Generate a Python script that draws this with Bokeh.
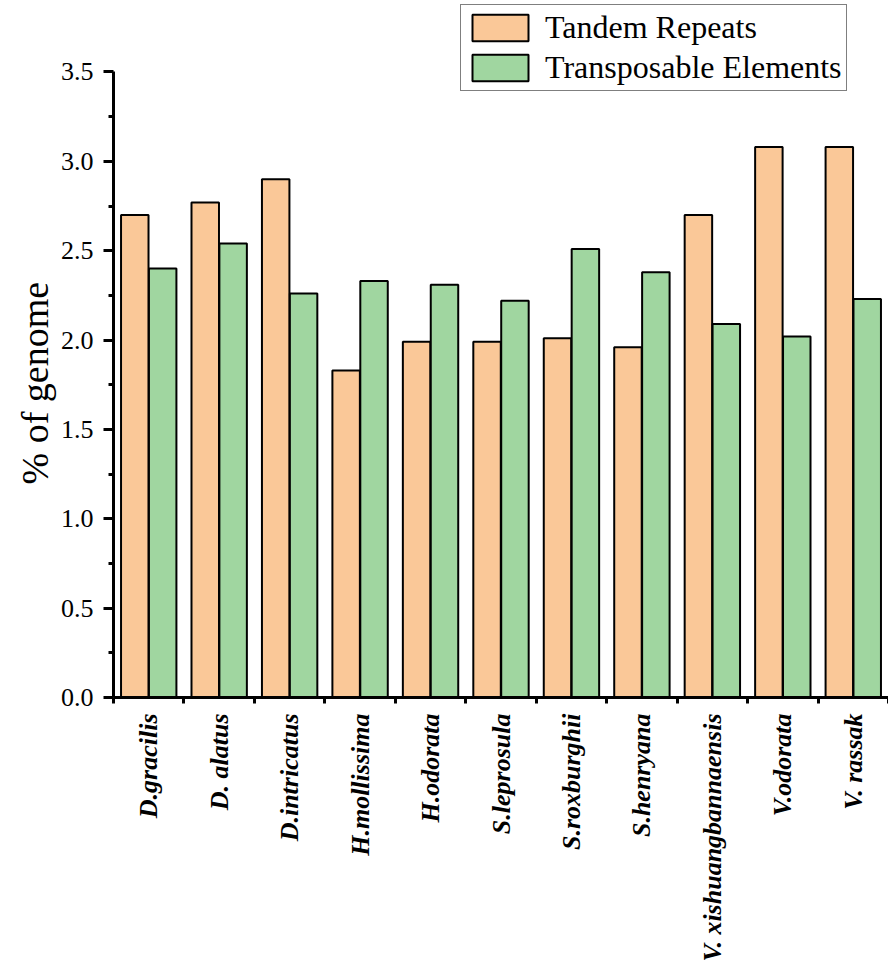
import math
from bokeh.plotting import figure
from bokeh.models import ColumnDataSource, FixedTicker, Range1d, Legend, LegendItem, Title
from bokeh.embed import file_html
from bokeh.resources import INLINE

categories = ["D.gracilis", "D. alatus", "D.intricatus", "H.mollissima", "H.odorata",
              "S.leprosula", "S.roxburghii", "S.henryana", "V. xishuangbannaensis",
              "V.odorata", "V. rassak"]
tandem_repeats = [2.70, 2.77, 2.90, 1.83, 1.99, 1.99, 2.01, 1.96, 2.70, 3.08, 3.08]
transposable_elements = [2.40, 2.54, 2.26, 2.33, 2.31, 2.22, 2.51, 2.38, 2.09, 2.02, 2.23]
y_ticks = [0.0, 0.5, 1.0, 1.5, 2.0, 2.5, 3.0, 3.5]
y_minor = [0.25, 0.75, 1.25, 1.75, 2.25, 2.75, 3.25]
y_label = "% of genome"

FONT = "Liberation Serif"
ORANGE = "#FAC898"
GREEN = "#A0D6A0"

idx = list(range(len(categories)))
src = ColumnDataSource(dict(
    xo=[i + 0.5 - 0.198 for i in idx],
    xg=[i + 0.5 + 0.198 for i in idx],
    tr=tandem_repeats,
    te=transposable_elements,
))

p = figure(width=888, height=964, output_backend="svg", toolbar_location=None,
           x_range=Range1d(0, len(categories)), y_range=Range1d(0, 3.90),
           min_border_left=113, min_border_right=0, min_border_top=0, min_border_bottom=264)
p.outline_line_color = None
p.xgrid.visible = False
p.ygrid.visible = False

r1 = p.vbar(x="xo", top="tr", width=0.39, bottom=0, source=src,
            fill_color=ORANGE, line_color="black", line_width=2)
r2 = p.vbar(x="xg", top="te", width=0.39, bottom=0, source=src,
            fill_color=GREEN, line_color="black", line_width=2)

# x axis
p.xaxis.ticker = FixedTicker(ticks=[i + 0.5 for i in idx], minor_ticks=list(range(len(categories) + 1)))
p.xaxis.major_label_overrides = {i + 0.5: c for i, c in zip(idx, categories)}
p.xaxis.major_label_orientation = math.pi / 2
p.xaxis.major_label_text_font = FONT
p.xaxis.major_label_text_font_style = "bold italic"
p.xaxis.major_label_text_font_size = "26px"
p.xaxis.major_label_text_color = "black"
p.xaxis.major_tick_out = 0
p.xaxis.major_tick_in = 0
p.xaxis.minor_tick_out = 6
p.xaxis.minor_tick_in = 0
p.xaxis.minor_tick_line_width = 3
p.xaxis.minor_tick_line_color = "black"
p.xaxis.axis_line_width = 3
p.xaxis.axis_line_color = "black"
p.xaxis.major_label_standoff = 10

# y axis
p.yaxis.ticker = FixedTicker(ticks=y_ticks, minor_ticks=y_minor)
p.yaxis.bounds = (0, 3.5)
p.yaxis.major_label_overrides = {t: f"{t:.1f}" for t in y_ticks}
p.yaxis.major_label_text_font = FONT
p.yaxis.major_label_text_font_size = "26px"
p.yaxis.major_label_text_color = "black"
p.yaxis.major_tick_out = 10
p.yaxis.major_tick_in = 0
p.yaxis.minor_tick_out = 5
p.yaxis.minor_tick_in = 0
p.yaxis.major_tick_line_width = 3
p.yaxis.major_tick_line_color = "black"
p.yaxis.minor_tick_line_width = 3
p.yaxis.minor_tick_line_color = "black"
p.yaxis.axis_line_width = 3
p.yaxis.axis_line_color = "black"
p.yaxis.major_label_standoff = 10

ytitle = Title(text=y_label, align="left", offset=213, standoff=4,
               text_font=FONT, text_font_size="38px", text_font_style="normal",
               text_color="black")
p.add_layout(ytitle, "left")

legend = Legend(items=[LegendItem(label="Tandem Repeats", renderers=[r1]),
                       LegendItem(label="Transposable Elements", renderers=[r2])],
                location=(347, 606))
legend.label_text_font = FONT
legend.label_text_font_size = "32px"
legend.label_text_color = "black"
legend.glyph_width = 70
legend.glyph_height = 33
legend.label_height = 33
legend.label_standoff = 10
legend.spacing = 3
legend.padding = 4
legend.margin = 0
legend.border_line_color = "black"
legend.border_line_width = 1.5
legend.background_fill_alpha = 1
p.add_layout(legend)

open("out.html", "w").write(file_html(p, INLINE))
